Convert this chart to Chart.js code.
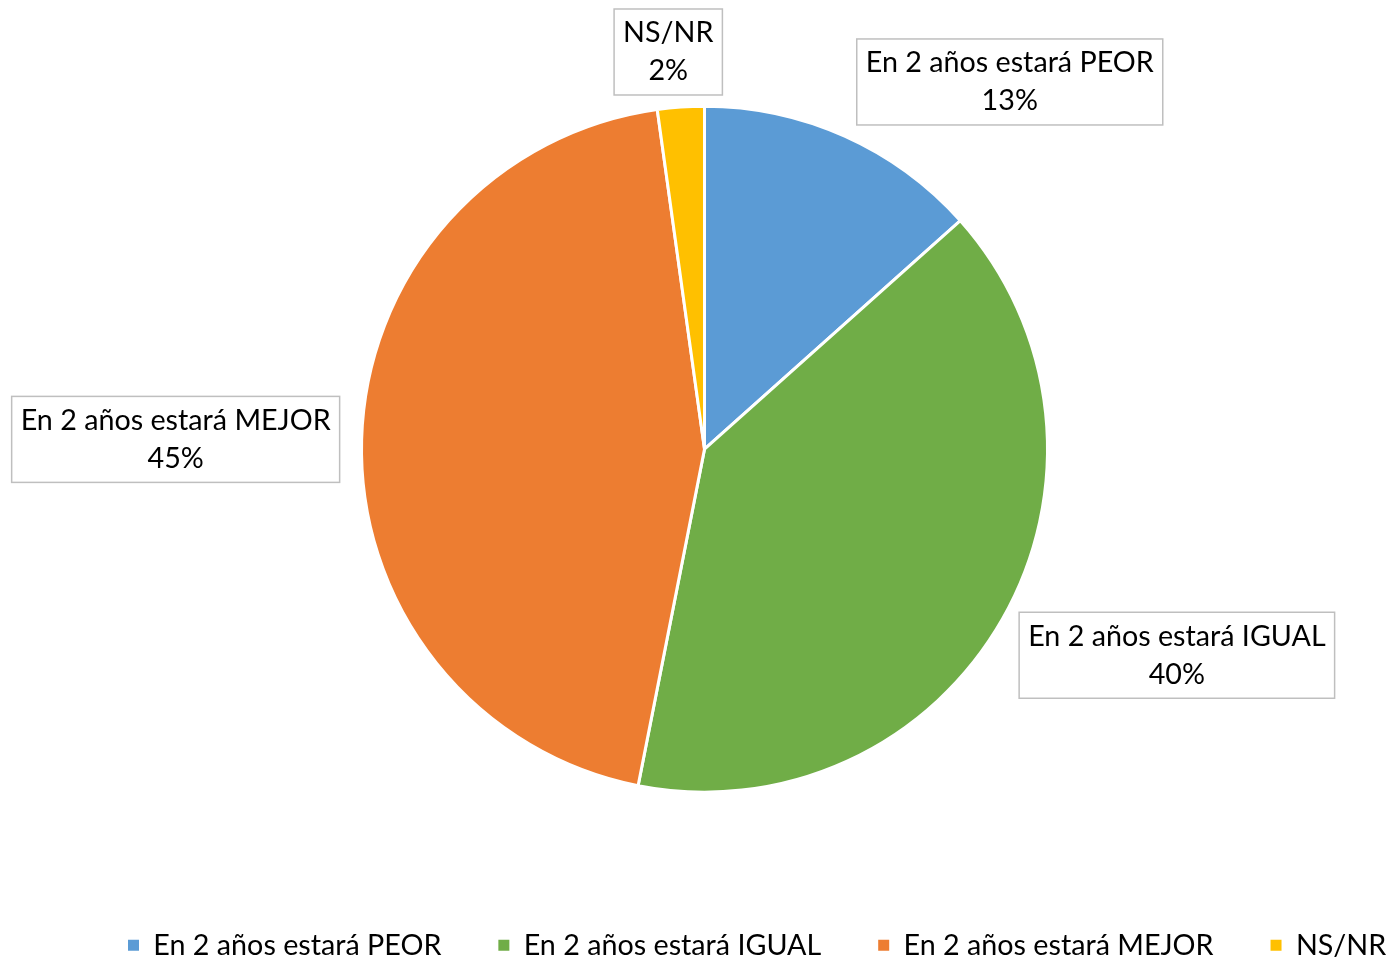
<!DOCTYPE html>
<html>
<head>
<meta charset="utf-8">
<script src="https://cdn.jsdelivr.net/npm/chart.js@4.4.1/dist/chart.umd.min.js"></script>
<style>
html, body { margin: 0; padding: 0; background: #fff; overflow: hidden; }
/* a bit wider than the window so the pie centre sits at x=704 like the original */
#wrap { width: 1409px; height: 960px; }
</style>
</head>
<body>
<div id="wrap"><canvas id="pieChart"></canvas></div>
<script>
const categories = ['En 2 años estará PEOR', 'En 2 años estará IGUAL', 'En 2 años estará MEJOR', 'NS/NR'];
const shares = [13.4, 39.7, 44.7, 2.2];
const sliceColors = ['#5B9BD5', '#70AD47', '#ED7D31', '#FFC000'];
const fontFamily = 'Lato, "Open Sans", sans-serif';
const fontSize = 28.7;

// boxed labels outside the slices, roughly like Excel's "best fit"
const boxedLabels = {
    id: 'boxedLabels',
    afterDatasetsDraw(chart) {
        const ctx = chart.ctx;
        const meta = chart.getDatasetMeta(0);
        const clamp = v => Math.max(-1, Math.min(1, v));
        ctx.save();
        ctx.font = fontSize + 'px ' + fontFamily;
        ctx.textAlign = 'center';
        ctx.textBaseline = 'middle';
        meta.data.forEach((arc, i) => {
            const p = arc.getProps(['x', 'y', 'startAngle', 'endAngle', 'outerRadius'], true);
            const mid = (p.startAngle + p.endAngle) / 2;
            const ax = p.x + Math.cos(mid) * (p.outerRadius + 10);
            const ay = p.y + Math.sin(mid) * (p.outerRadius + 10);
            const lines = [categories[i], Math.round(shares[i]) + '%'];
            const w = Math.max(...lines.map(t => ctx.measureText(t).width)) + 18;
            const h = 86;
            const cos = Math.cos(mid);
            const cx = ax + clamp(cos * 2.6) * (w / 2 + (cos < 0 ? 12 : 8));
            const cy = ay + clamp(Math.sin(mid) * 1.4) * (h / 2 + 2) + (Math.abs(cos) > 0.9 ? 2 : 0);
            ctx.fillStyle = '#fff';
            ctx.fillRect(cx - w / 2, cy - h / 2, w, h);
            ctx.strokeStyle = '#bfbfbf';
            ctx.lineWidth = 1.5;
            ctx.strokeRect(cx - w / 2, cy - h / 2, w, h);
            ctx.fillStyle = '#000';
            ctx.fillText(lines[0], cx, cy - 19);
            ctx.fillText(lines[1], cx, cy + 19);
        });
        ctx.restore();
    }
};

// move the legend row down/left to where Excel puts it
const legendShift = {
    id: 'legendShift',
    afterLayout(chart) {
        const lg = chart.legend;
        const dx = 71 - lg.left;
        const dy = 874 - lg.top;
        lg.left += dx; lg.right += dx;
        lg.top += dy; lg.bottom += dy;
    }
};

const ctx = document.getElementById('pieChart').getContext('2d');
const pieChart = new Chart(ctx, {
    type: 'pie',
    data: {
        labels: categories,
        datasets: [{
            data: shares,
            backgroundColor: sliceColors,
            borderColor: '#fff',
            borderWidth: 3,
            radius: 343
        }]
    },
    options: {
        responsive: true,
        maintainAspectRatio: false,
        animation: false,
        layout: {
            padding: { top: 107, bottom: 73, left: 0, right: 0 }
        },
        plugins: {
            tooltip: { enabled: false },
            legend: {
                position: 'bottom',
                align: 'start',
                labels: {
                    boxWidth: 11,
                    boxHeight: 11,
                    padding: 57,
                    color: '#000',
                    font: { family: fontFamily, size: fontSize },
                    generateLabels(chart) {
                        const items = Chart.overrides.pie.plugins.legend.labels.generateLabels(chart);
                        return items.map(it => ({ ...it, lineWidth: 0, strokeStyle: it.fillStyle }));
                    }
                }
            }
        }
    },
    plugins: [boxedLabels, legendShift]
});
</script>
</body>
</html>
